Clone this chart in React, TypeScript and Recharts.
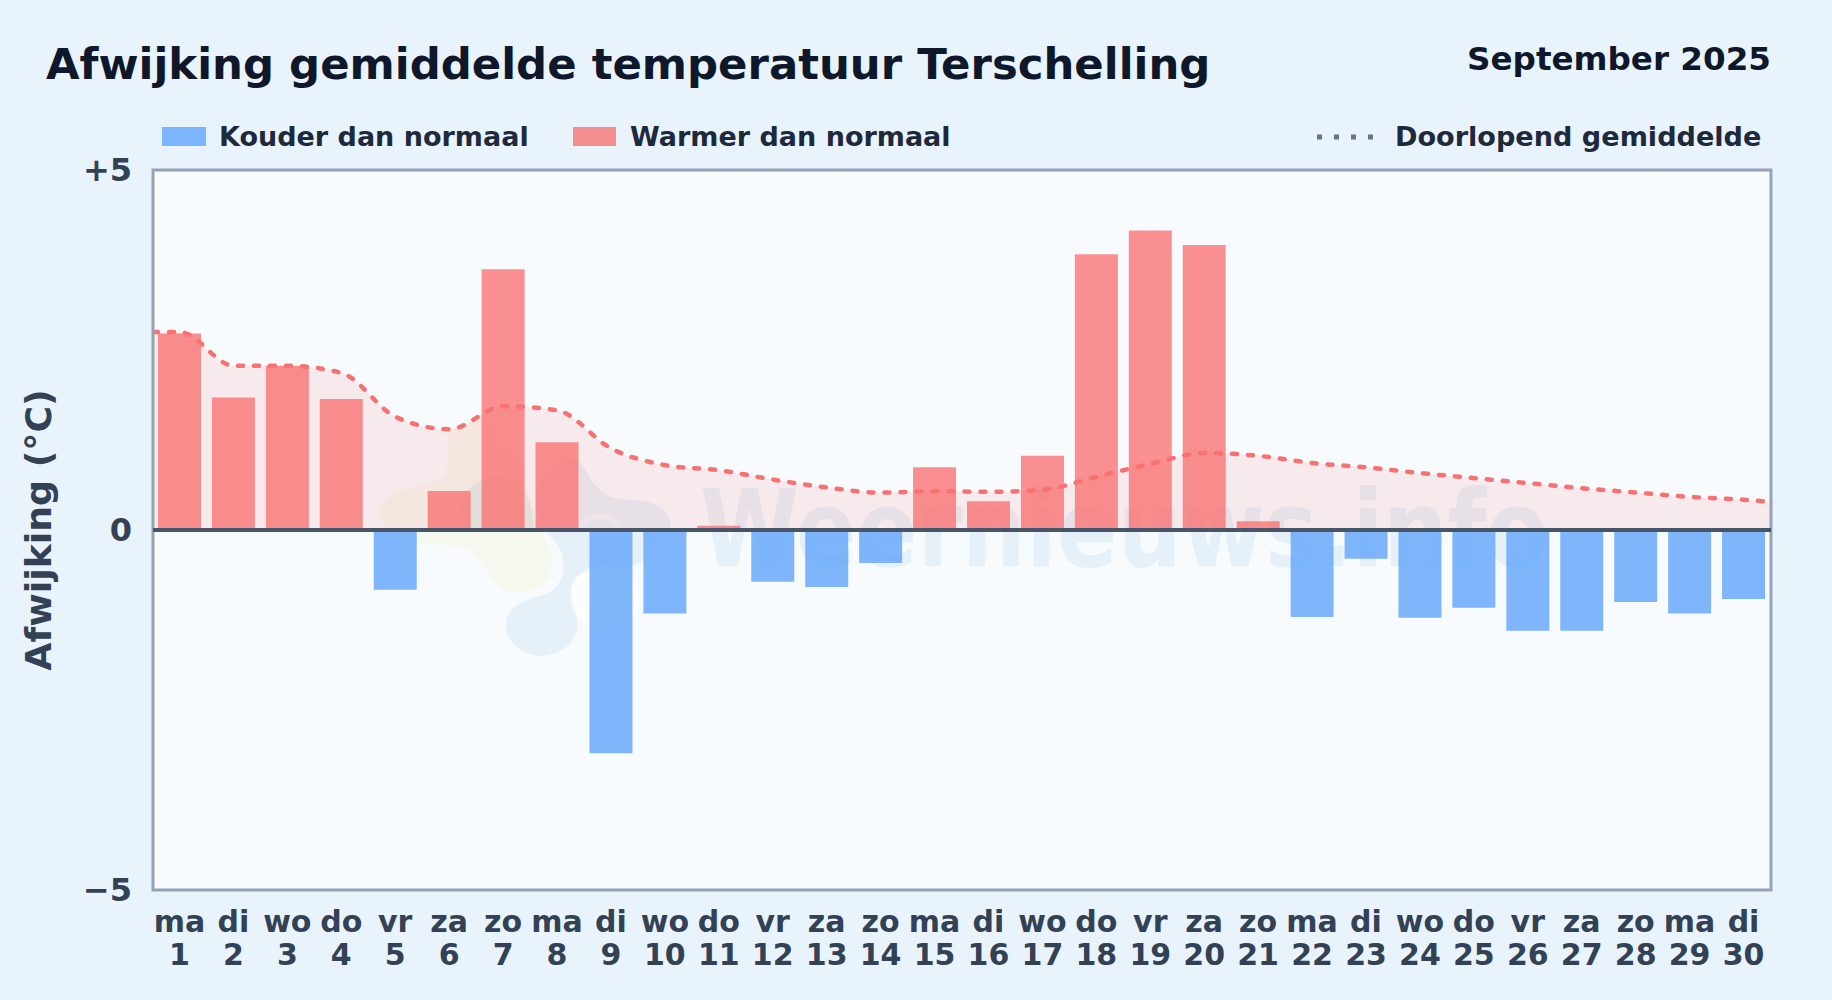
import React from 'react';
import { ComposedChart, Bar, Area, Cell, XAxis, YAxis, ReferenceArea, ReferenceLine } from 'recharts';

const weekdays = ['ma','di','wo','do','vr','za','zo','ma','di','wo','do','vr','za','zo','ma','di','wo','do','vr','za','zo','ma','di','wo','do','vr','za','zo','ma','di'];
const days = [1,2,3,4,5,6,7,8,9,10,11,12,13,14,15,16,17,18,19,20,21,22,23,24,25,26,27,28,29,30];
const deviation = [2.73,1.84,2.28,1.82,-0.83,0.54,3.62,1.22,-3.10,-1.16,0.06,-0.72,-0.79,-0.46,0.87,0.40,1.03,3.83,4.16,3.96,0.12,-1.21,-0.40,-1.22,-1.08,-1.40,-1.40,-1.00,-1.16,-0.96];
const meanX = [0.5,1,2,3,4,5,6,7,8,9,10,11,12,13,14,15,16,17,18,19,20,21,22,23,24,25,26,27,28,29,30,30.5];
const meanY = [2.75,2.75,2.28,2.28,2.18,1.57,1.40,1.72,1.66,1.13,0.90,0.83,0.70,0.59,0.52,0.54,0.53,0.56,0.74,0.92,1.07,1.03,0.93,0.87,0.79,0.72,0.65,0.58,0.52,0.46,0.42,0.39];

const barData = days.map((d, i) => ({ key: `${weekdays[i]}|${d}`, value: deviation[i] }));
const meanData = meanX.map((x, i) => ({ x, y: meanY[i] }));

const FONT = '"DejaVu Sans", sans-serif';
const COLD = '#60A5FA';
const WARM = '#F87171';
const MARK = '#3080BC';

const XTick = (p: any) => {
  const [w, d] = String(p.payload.value).split('|');
  return (
    <g>
      <text x={p.x - 0.5} y={932} textAnchor="middle" fontFamily={FONT} fontWeight={700} fontSize={30} fill="#334155">{w}</text>
      <text x={p.x - 0.5} y={965} textAnchor="middle" fontFamily={FONT} fontWeight={700} fontSize={30} fill="#334155">{d}</text>
    </g>
  );
};

const yLabels: Record<string, string> = { '5': '+5', '0': '0', '-5': '−5' };
const YTick = (p: any) => (
  <text x={132} y={p.y + 11} textAnchor="end" fontFamily={FONT} fontWeight={700} fontSize={32} fill="#334155">{yLabels[String(p.payload.value)]}</text>
);

const Watermark = () => (
  <svg style={{ position: 'absolute', left: 0, top: 0, pointerEvents: 'none' }} width={1832} height={1000}>
    <g transform="translate(360 390) scale(0.3333)">
      <path d="M265 120 C300 90 340 80 365 75 L480 230 L500 300 L545 425 C575 470 590 520 565 565 C540 600 490 612 450 605 C400 590 375 530 340 490 C310 465 240 458 170 465 C120 460 70 420 60 375 C55 335 90 310 130 298 C170 285 225 285 245 260 C275 225 265 170 265 120 Z" fill="#C8C808" fillOpacity={0.06} />
      <path d="M300 345 C315 285 380 250 440 262 C495 280 515 330 522 415 L320 415 Z" fill={MARK} fillOpacity={0.09} />
      <path d="M655 210 C690 250 700 310 770 325 C830 335 910 325 930 395 C940 450 870 490 840 520 C800 540 700 530 650 560 C620 590 640 640 650 680 C665 740 620 790 550 798 C480 800 435 750 438 700 C440 650 500 625 550 615 C600 600 620 550 605 490 C590 450 560 430 540 410 L530 300 C560 240 620 200 655 210 Z" fill={MARK} fillOpacity={0.09} />
      <ellipse cx={735} cy={620} rx={95} ry={85} fill="#FFFFFF" fillOpacity={0.25} stroke="#FFFFFF" strokeOpacity={0.5} strokeWidth={22} />
      <path d="M660 412 C680 370 750 370 775 412" fill="none" stroke="#FFFFFF" strokeOpacity={0.35} strokeWidth={18} />
    </g>
    <text transform="translate(1124 566) scale(0.84 1)" textAnchor="middle" fontFamily={FONT} fontWeight={700} fontSize={107} fill={MARK} fillOpacity={0.09}>Weernieuws.info</text>
  </svg>
);

export default function App() {
  return (
    <div style={{ position: 'absolute', left: 0, top: 0, width: 1832, height: 1000, background: '#E8F3FC', overflow: 'hidden', fontFamily: FONT }}>
      <div style={{ position: 'absolute', left: 46, top: 38.5, fontSize: 43.4, fontWeight: 700, color: '#0F172A', whiteSpace: 'nowrap' }}>Afwijking gemiddelde temperatuur Terschelling</div>
      <div style={{ position: 'absolute', right: 61, top: 40, fontSize: 32.6, fontWeight: 700, color: '#0F172A', whiteSpace: 'nowrap' }}>September 2025</div>

      <div style={{ position: 'absolute', left: 162, top: 127, width: 44, height: 19, background: COLD, opacity: 0.8 }} />
      <div style={{ position: 'absolute', left: 219, top: 121, fontSize: 27, fontWeight: 700, color: '#1E293B', whiteSpace: 'nowrap' }}>Kouder dan normaal</div>
      <div style={{ position: 'absolute', left: 573, top: 127, width: 43, height: 19, background: WARM, opacity: 0.78 }} />
      <div style={{ position: 'absolute', left: 630, top: 121, fontSize: 27, fontWeight: 700, color: '#1E293B', whiteSpace: 'nowrap' }}>Warmer dan normaal</div>
      <svg style={{ position: 'absolute', left: 1315, top: 130, width: 60, height: 14 }}>
        <line x1={2} y1={7} x2={58} y2={7} stroke="#64748B" strokeWidth={5} strokeDasharray="5 12" />
      </svg>
      <div style={{ position: 'absolute', left: 1395, top: 121, fontSize: 27.1, fontWeight: 700, color: '#1E293B', whiteSpace: 'nowrap' }}>Doorlopend gemiddelde</div>

      <div style={{ position: 'absolute', left: 38, top: 530, width: 0, height: 0 }}>
        <div style={{ position: 'absolute', transform: 'translate(-50%,-50%) rotate(-90deg)', fontSize: 36.3, fontWeight: 700, color: '#334155', whiteSpace: 'nowrap' }}>Afwijking (°C)</div>
      </div>

      <div style={{ position: 'absolute', left: 153, top: 170, width: 1618, height: 720, background: '#F8FBFE' }} />
      <Watermark />

      <div style={{ position: 'absolute', left: 0, top: 0 }}>
        <ComposedChart width={1832} height={1000} data={barData} margin={{ top: 170, right: 61, bottom: 0, left: 0 }} barSize={43}>
          <XAxis dataKey="key" xAxisId="cat" type="category" height={110} axisLine={false} tickLine={false} tick={<XTick />} interval={0} />
          <XAxis dataKey="x" xAxisId="num" type="number" domain={[0.5, 30.5]} hide allowDataOverflow />
          <YAxis type="number" domain={[-5, 5]} ticks={[-5, 0, 5]} width={153} axisLine={false} tickLine={false} tick={<YTick />} />
          <Area xAxisId="num" data={meanData} dataKey="y" type="monotone" baseValue={0} fill={WARM} fillOpacity={0.12} stroke={WARM} strokeWidth={4.5} strokeDasharray="5 11" strokeLinecap="round" isAnimationActive={false} dot={false} activeDot={false} />
          <Bar xAxisId="cat" dataKey="value" isAnimationActive={false}>
            {deviation.map((v, i) => <Cell key={i} fill={v < 0 ? COLD : WARM} fillOpacity={v < 0 ? 0.8 : 0.78} />)}
          </Bar>
          <ReferenceLine xAxisId="num" y={0} stroke="#475569" strokeWidth={4} />
          <ReferenceArea xAxisId="num" y1={-5} y2={5} fill="none" stroke="#94A3B8" strokeWidth={3} />
        </ComposedChart>
      </div>
    </div>
  );
}
